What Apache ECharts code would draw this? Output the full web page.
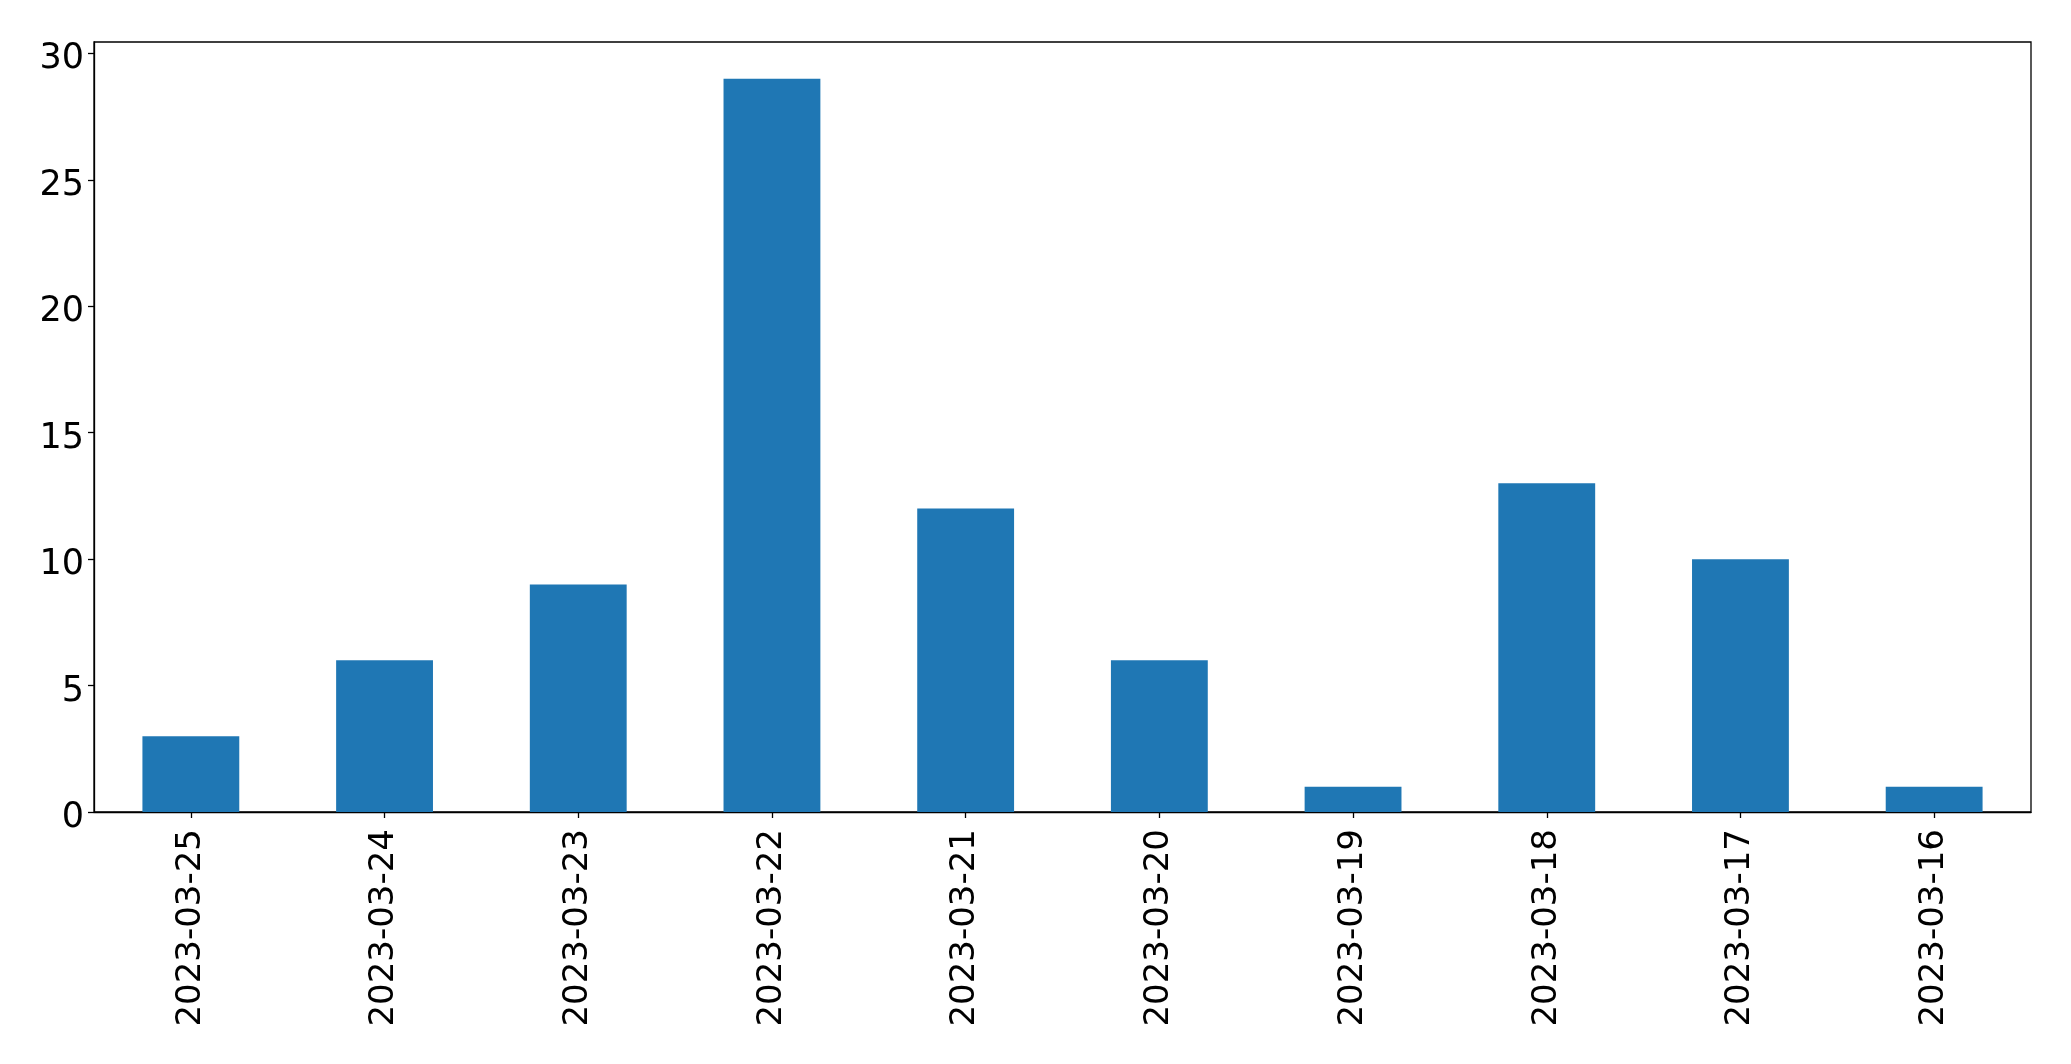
<!DOCTYPE html>
<html>
<head>
<meta charset="utf-8">
<script src="https://cdn.jsdelivr.net/npm/echarts@6/dist/echarts.min.js"></script>
<style>
html,body{margin:0;padding:0;background:#fff;}
#chart{width:2071px;height:1064px;}
</style>
</head>
<body>
<div id="chart"></div>
<script>
const categories = ['2023-03-25','2023-03-24','2023-03-23','2023-03-22','2023-03-21','2023-03-20','2023-03-19','2023-03-18','2023-03-17','2023-03-16'];
const values = [3, 6, 9, 29, 12, 6, 1, 13, 10, 1];
const yTicks = [0, 5, 10, 15, 20, 25, 30];

const chart = echarts.init(document.getElementById('chart'), null, {renderer: 'canvas'});
const font = "'DejaVu Sans', sans-serif";
chart.setOption({
  animation: false,
  backgroundColor: '#ffffff',
  grid: {
    left: 94, right: 40, top: 42, bottom: 252,
    show: true, borderColor: '#000', borderWidth: 1.3, backgroundColor: 'transparent'
  },
  xAxis: {
    type: 'category',
    data: categories,
    boundaryGap: true,
    axisLine: {show: true, lineStyle: {color: '#000', width: 1.3}},
    axisTick: {show: true, alignWithLabel: true, length: 6, lineStyle: {color: '#000', width: 1.3}},
    axisLabel: {rotate: 90, color: '#000', fontSize: 34, fontFamily: font, margin: 17, interval: 0}
  },
  yAxis: {
    type: 'value',
    min: 0,
    max: 30.45,
    splitLine: {show: false},
    axisLine: {show: true, lineStyle: {color: '#000', width: 1.3}},
    axisTick: {show: true, length: 6, lineStyle: {color: '#000', width: 1.3}, customValues: yTicks},
    axisLabel: {
      color: '#000', fontSize: 35, fontFamily: font, margin: 10, customValues: yTicks,
      formatter: '{a|{value}}',
      rich: {a: {color: '#000', fontSize: 35, fontFamily: font, padding: [12, 0, 0, 0]}}
    }
  },
  series: [{
    type: 'bar',
    data: values,
    barWidth: '50%',
    itemStyle: {color: '#1f77b4'}
  }]
});
</script>
</body>
</html>
